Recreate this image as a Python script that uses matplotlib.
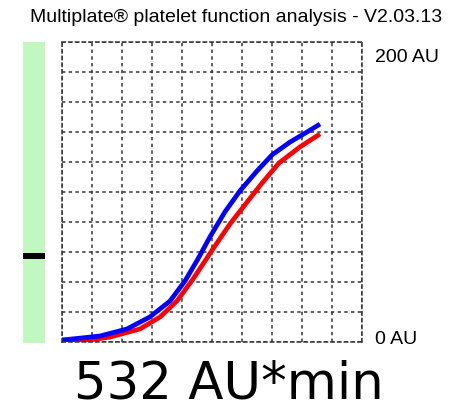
import matplotlib
matplotlib.use("Agg")
import matplotlib.pyplot as plt

# aggregation curves (time in min, aggregation in AU)
blue_t = [0, 1.27, 2.17, 2.93, 3.6, 4.1, 4.53, 4.93, 5.43, 5.93, 6.5, 7.0, 7.6, 8.17, 8.6]
blue_au = [1.3, 4, 8.7, 16.7, 27.3, 40.7, 55.3, 70, 86.7, 100.7, 114, 124.7, 133.3, 140, 145.3]
red_t = [0, 0.7, 1.6, 2.6, 3.27, 3.83, 4.37, 5.03, 5.6, 6.17, 6.67, 7.23, 7.93, 8.6]
red_au = [1.3, 0.7, 3.3, 8.7, 16.7, 27.3, 42, 62, 78.7, 93.3, 106, 119.3, 130, 138.7]

marker_au = 58
title = "Multiplate\u00ae platelet function analysis - V2.03.13"
auc_label = "532 AU*min"
y_labels = ["200 AU", "0 AU"]

W, H = 462, 406
fig = plt.figure(figsize=(W / 100, H / 100), dpi=100)


def fx(px):
    return px / W


def fy(py):
    return 1 - py / H


small = ["Liberation Sans", "DejaVu Sans"]
dash = (0, (2.2, 2.2))

ax = fig.add_axes([fx(62), fy(343), 300 / W, 300 / H])
ax.set_xlim(0, 10)
ax.set_ylim(0, 200)
ax.set_xticks(range(11))
ax.set_yticks(range(0, 201, 20))
ax.tick_params(length=0, labelbottom=False, labelleft=False)
ax.grid(True, ls=dash, lw=1.1, color="#333333")
for s in ax.spines.values():
    s.set_linestyle(dash)
    s.set_color("#333333")
    s.set_linewidth(1.1)

ax.plot(red_t, red_au, color="#ff0000", lw=3.4, solid_capstyle="butt")
ax.plot(blue_t, blue_au, color="#0000ff", lw=3.4, solid_capstyle="butt")

# reference bar on the left
bar = fig.add_axes([fx(23), fy(344), 22 / W, 301 / H])
bar.set_facecolor("#c0f8c0")
bar.set_xlim(0, 1)
bar.set_ylim(0, 200)
bar.set_xticks([])
bar.set_yticks([])
for s in bar.spines.values():
    s.set_visible(False)
bar.axhline(marker_au, color="black", lw=4.3)

fig.text(fx(236), fy(17), title, ha="center", va="center", fontsize=14, family=small)
fig.text(fx(375), fy(57), y_labels[0], ha="left", va="center", fontsize=14, family=small)
fig.text(fx(375), fy(340), y_labels[1], ha="left", va="center", fontsize=14, family=small)
fig.text(fx(229), fy(399), auc_label, ha="center", va="baseline", fontsize=37, family="DejaVu Sans")

fig.savefig("out.png", dpi=100)
